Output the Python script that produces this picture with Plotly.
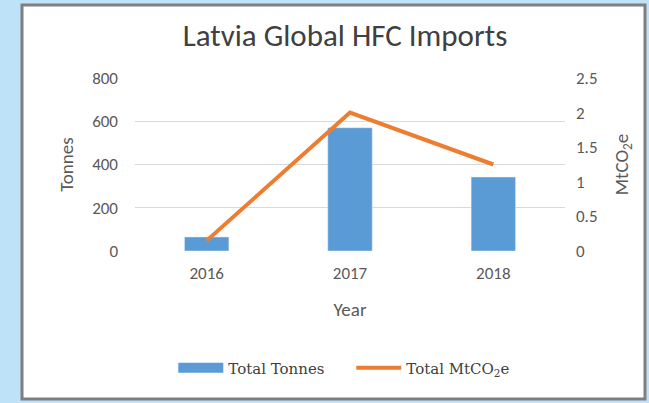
import plotly.graph_objects as go

years = ["2016", "2017", "2018"]
tonnes = [65, 570, 342]
mtco2e = [0.15, 2.0, 1.25]

fig = go.Figure()

fig.add_trace(go.Bar(
    x=years, y=tonnes, name="Total Tonnes",
    marker_color="#5B9BD5", width=0.31, showlegend=False
))
fig.add_trace(go.Scatter(
    x=years, y=mtco2e, name="Total MtCO<sub>2</sub>e", yaxis="y2",
    mode="lines", line=dict(color="#ED7D31", width=4), showlegend=False
))
# legend entries (wide blue block, orange line)
fig.add_trace(go.Scatter(
    x=[None], y=[None], name="Total Tonnes", mode="lines",
    line=dict(color="#5B9BD5", width=10)
))
fig.add_trace(go.Scatter(
    x=[None], y=[None], name="Total MtCO<sub>2</sub>e", mode="lines",
    line=dict(color="#ED7D31", width=4)
))

# white chart panel on the light blue page
fig.add_shape(
    type="rect", xref="paper", yref="paper",
    x0=(22 - 135) / 430, x1=(645 - 135) / 430,
    y0=(251 - 399) / 173, y1=(251 - 5) / 173,
    fillcolor="white", line=dict(color="#7f7f7f", width=3), layer="below"
)

fam = "Carlito, Lato, sans-serif"
axis_font = dict(family=fam, size=17, color="#595959")
title_font = dict(family=fam, size=19, color="#595959")

fig.update_layout(
    width=649, height=403,
    paper_bgcolor="#BEE3F8", plot_bgcolor="rgba(0,0,0,0)",
    margin=dict(l=135, r=84, t=78, b=152),
    title=dict(
        text="Latvia Global HFC Imports", x=345 / 649, xanchor="center",
        y=1 - 35 / 403, yanchor="middle",
        font=dict(family=fam, size=31, color="#404040")
    ),
    xaxis=dict(
        tickfont=axis_font, showgrid=False, showline=False, ticks="",
        title=dict(text="Year", font=title_font, standoff=19),
        ticklabelstandoff=10, automargin=False
    ),
    yaxis=dict(
        range=[0, 800], dtick=200, tickfont=axis_font,
        gridcolor="#d9d9d9", zeroline=False, showline=False,
        title=dict(text="Tonnes", font=title_font, standoff=13),
        ticklabelstandoff=16, automargin=False
    ),
    yaxis2=dict(
        range=[0, 2.5], dtick=0.5, overlaying="y", side="right",
        tickfont=axis_font, showgrid=False, zeroline=False, showline=False,
        title=dict(text="MtCO<sub>2</sub>e", font=title_font, standoff=18),
        ticklabelstandoff=10, automargin=False
    ),
    legend=dict(
        orientation="h", x=0.503, xanchor="center",
        y=(251 - 368) / 173, yanchor="middle",
        font=dict(family="DejaVu Serif, serif", size=15, color="#404040"),
        bgcolor="rgba(0,0,0,0)", itemwidth=45, entrywidth=118
    )
)

fig.write_html(
    "out.html",
    config={"displayModeBar": False},
    post_script="document.body.style.margin='0';document.body.style.background='#BEE3F8';"
)
